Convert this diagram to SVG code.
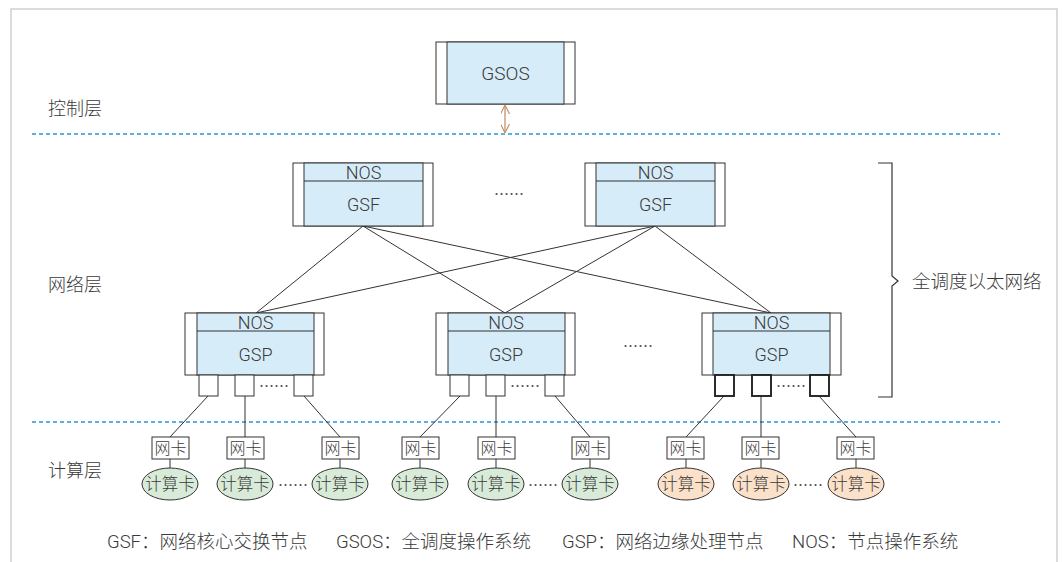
<svg xmlns="http://www.w3.org/2000/svg" width="1064" height="562" viewBox="0 0 1064 562">
  <defs>
    <style>
      .frame { fill: none; stroke: #cfcfcf; stroke-width: 1.5; }
      .sep { stroke: #2597dc; stroke-width: 1.3; stroke-dasharray: 4 3; fill: none; }
      .side { fill: #ffffff; stroke: #333; stroke-width: 1; }
      .core { fill: #d6ecf9; stroke: #333; stroke-width: 1; }
      .port { fill: #ffffff; stroke: #333; stroke-width: 1; }
      .port-b { fill: #ffffff; stroke: #222; stroke-width: 1.9; }
      .nic { fill: #ffffff; stroke: #333; stroke-width: 1; }
      .card-g { fill: #d8ebd9; stroke: #333; stroke-width: 1; }
      .card-o { fill: #fbe1c9; stroke: #333; stroke-width: 1; }
      .link { stroke: #333; stroke-width: 1; fill: none; }
      .lbl { font-family: "Roboto", "Noto Sans CJK SC", sans-serif; font-weight: 300; fill: #3a3a3a; }
      .t-box { font-size: 18px; text-anchor: middle; dominant-baseline: central; }
      .t-side { font-size: 18px; dominant-baseline: central; }
      .t-leg { font-size: 18.5px; dominant-baseline: central; }
      .t-nic { font-size: 16px; text-anchor: middle; dominant-baseline: central; }
      .t-card { font-size: 16.5px; text-anchor: middle; dominant-baseline: central; }
      .t-dots { font-family: "Noto Sans CJK SC", sans-serif; font-size: 15px; text-anchor: middle; dominant-baseline: central; fill: #555; }
    </style>
    <marker id="ah" viewBox="0 0 10 10" refX="9" refY="5" markerWidth="9" markerHeight="9" orient="auto-start-reverse" markerUnits="userSpaceOnUse">
      <path d="M0,0 L10,5 L0,10" fill="none" stroke="#c08a5c" stroke-width="1.2"/>
    </marker>
  </defs>

  <!-- outer frame -->
  <path class="frame" d="M11,562 L11,9 L1057,9 L1057,562"/>

  <!-- layer separators -->
  <line class="sep" x1="32" y1="134" x2="1000" y2="134"/>
  <line class="sep" x1="32" y1="422" x2="1000" y2="422"/>

  <!-- layer names -->
  <text class="lbl t-side" x="48" y="108">控制层</text>
  <text class="lbl t-side" x="48" y="284">网络层</text>
  <text class="lbl t-side" x="48" y="470">计算层</text>

  <!-- connectors -->
  <g id="connectors">
    <line x1="505" y1="106" x2="505" y2="132" stroke="#c08a5c" stroke-width="1.2" marker-start="url(#ah)" marker-end="url(#ah)"/>
    <line class="link" x1="363" y1="226" x2="256" y2="313"/>
    <line class="link" x1="363" y1="226" x2="505" y2="313"/>
    <line class="link" x1="363" y1="226" x2="771" y2="313"/>
    <line class="link" x1="655" y1="226" x2="256" y2="313"/>
    <line class="link" x1="655" y1="226" x2="505" y2="313"/>
    <line class="link" x1="655" y1="226" x2="771" y2="313"/>
    <!-- ports to NICs -->
    <line class="link" x1="208" y1="396" x2="170" y2="437"/>
    <line class="link" x1="245" y1="396" x2="245" y2="437"/>
    <line class="link" x1="304" y1="396" x2="340" y2="437"/>
    <line class="link" x1="460" y1="396" x2="420" y2="437"/>
    <line class="link" x1="496" y1="396" x2="496" y2="437"/>
    <line class="link" x1="555" y1="396" x2="590" y2="437"/>
    <line class="link" x1="724" y1="396" x2="686" y2="437"/>
    <line class="link" x1="761" y1="396" x2="761" y2="437"/>
    <line class="link" x1="819" y1="396" x2="856" y2="437"/>
    <!-- NICs to compute cards -->
    <line class="link" x1="170" y1="459" x2="170" y2="468"/>
    <line class="link" x1="245" y1="459" x2="245" y2="468"/>
    <line class="link" x1="340" y1="459" x2="340" y2="468"/>
    <line class="link" x1="420" y1="459" x2="420" y2="468"/>
    <line class="link" x1="496" y1="459" x2="496" y2="468"/>
    <line class="link" x1="590" y1="459" x2="590" y2="468"/>
    <line class="link" x1="686" y1="459" x2="686" y2="468"/>
    <line class="link" x1="761" y1="459" x2="761" y2="468"/>
    <line class="link" x1="856" y1="459" x2="856" y2="468"/>
  </g>

  <!-- control layer -->
  <g id="gsos">
    <rect class="side" x="436" y="42" width="139" height="62"/>
    <rect class="core" x="447" y="42" width="117" height="62"/>
    <text class="lbl t-box" x="505.5" y="73" style="font-size:19px">GSOS</text>
  </g>

  <!-- core switches -->
  <g id="gsf-1">
    <rect class="side" x="293" y="163" width="140" height="63"/>
    <rect class="core" x="304" y="163" width="119" height="63"/>
    <line class="link" x1="304" y1="181" x2="423" y2="181"/>
    <text class="lbl t-box" x="363.5" y="172">NOS</text>
    <text class="lbl t-box" x="363.5" y="204">GSF</text>
  </g>
  <g id="gsf-2">
    <rect class="side" x="585" y="163" width="140" height="63"/>
    <rect class="core" x="596" y="163" width="119" height="63"/>
    <line class="link" x1="596" y1="181" x2="715" y2="181"/>
    <text class="lbl t-box" x="655.5" y="172">NOS</text>
    <text class="lbl t-box" x="655.5" y="204">GSF</text>
  </g>
  <text class="t-dots" x="509" y="193">……</text>

  <!-- edge nodes -->
  <g id="gsp-1">
    <rect class="side" x="185" y="313" width="139" height="62"/>
    <rect class="core" x="197" y="313" width="117" height="62"/>
    <line class="link" x1="197" y1="331" x2="314" y2="331"/>
    <text class="lbl t-box" x="255.5" y="322">NOS</text>
    <text class="lbl t-box" x="255.5" y="354">GSP</text>
    <rect class="port" x="199" y="375" width="19" height="21"/>
    <rect class="port" x="235" y="375" width="19" height="21"/>
    <rect class="port" x="294" y="375" width="19" height="21"/>
    <text class="t-dots" x="274" y="385">……</text>
  </g>
  <g id="gsp-2">
    <rect class="side" x="436" y="313" width="139" height="62"/>
    <rect class="core" x="448" y="313" width="117" height="62"/>
    <line class="link" x1="448" y1="331" x2="565" y2="331"/>
    <text class="lbl t-box" x="506" y="322">NOS</text>
    <text class="lbl t-box" x="506" y="354">GSP</text>
    <rect class="port" x="450" y="375" width="19" height="21"/>
    <rect class="port" x="486" y="375" width="19" height="21"/>
    <rect class="port" x="545" y="375" width="19" height="21"/>
    <text class="t-dots" x="525" y="385">……</text>
  </g>
  <text class="t-dots" x="638" y="345">……</text>
  <g id="gsp-3">
    <rect class="side" x="702" y="313" width="139" height="62"/>
    <rect class="core" x="713" y="313" width="117" height="62"/>
    <line class="link" x1="713" y1="331" x2="830" y2="331"/>
    <text class="lbl t-box" x="771.5" y="322">NOS</text>
    <text class="lbl t-box" x="771.5" y="354">GSP</text>
    <rect class="port-b" x="715" y="375" width="19" height="21"/>
    <rect class="port-b" x="752" y="375" width="19" height="21"/>
    <rect class="port-b" x="810" y="375" width="19" height="21"/>
    <text class="t-dots" x="791" y="385">……</text>
  </g>

  <!-- fabric brace -->
  <g id="fabric">
    <path d="M878,163 L892,163 L892,276 L898,281 L892,286 L892,397 L878,397" fill="none" stroke="#333" stroke-width="1.2"/>
    <text class="lbl t-side" x="912" y="282" style="font-size:18.5px">全调度以太网络</text>
  </g>

  <!-- compute layer: NICs and cards -->
  <g id="host-1">
    <rect class="nic" x="152" y="437" width="37" height="22"/>
    <text class="lbl t-nic" x="170.5" y="448">网卡</text>
    <ellipse class="card-g" cx="170" cy="484" rx="28" ry="16"/>
    <text class="lbl t-card" x="170" y="484">计算卡</text>
  </g>
  <g id="host-2">
    <rect class="nic" x="227" y="437" width="37" height="22"/>
    <text class="lbl t-nic" x="245.5" y="448">网卡</text>
    <ellipse class="card-g" cx="245" cy="484" rx="28" ry="16"/>
    <text class="lbl t-card" x="245" y="484">计算卡</text>
  </g>
  <text class="t-dots" x="293" y="484">……</text>
  <g id="host-3">
    <rect class="nic" x="322" y="437" width="37" height="22"/>
    <text class="lbl t-nic" x="340.5" y="448">网卡</text>
    <ellipse class="card-g" cx="340" cy="484" rx="28" ry="16"/>
    <text class="lbl t-card" x="340" y="484">计算卡</text>
  </g>
  <g id="host-4">
    <rect class="nic" x="402" y="437" width="37" height="22"/>
    <text class="lbl t-nic" x="420.5" y="448">网卡</text>
    <ellipse class="card-g" cx="420" cy="484" rx="28" ry="16"/>
    <text class="lbl t-card" x="420" y="484">计算卡</text>
  </g>
  <g id="host-5">
    <rect class="nic" x="478" y="437" width="37" height="22"/>
    <text class="lbl t-nic" x="496.5" y="448">网卡</text>
    <ellipse class="card-g" cx="496" cy="484" rx="28" ry="16"/>
    <text class="lbl t-card" x="496" y="484">计算卡</text>
  </g>
  <text class="t-dots" x="543" y="484">……</text>
  <g id="host-6">
    <rect class="nic" x="572" y="437" width="37" height="22"/>
    <text class="lbl t-nic" x="590.5" y="448">网卡</text>
    <ellipse class="card-g" cx="590" cy="484" rx="28" ry="16"/>
    <text class="lbl t-card" x="590" y="484">计算卡</text>
  </g>
  <g id="host-7">
    <rect class="nic" x="667" y="437" width="37" height="22"/>
    <text class="lbl t-nic" x="685.5" y="448">网卡</text>
    <ellipse class="card-o" cx="686" cy="484" rx="28" ry="16"/>
    <text class="lbl t-card" x="686" y="484">计算卡</text>
  </g>
  <g id="host-8">
    <rect class="nic" x="742" y="437" width="37" height="22"/>
    <text class="lbl t-nic" x="760.5" y="448">网卡</text>
    <ellipse class="card-o" cx="761" cy="484" rx="28" ry="16"/>
    <text class="lbl t-card" x="761" y="484">计算卡</text>
  </g>
  <text class="t-dots" x="808" y="484">……</text>
  <g id="host-9">
    <rect class="nic" x="837" y="437" width="37" height="22"/>
    <text class="lbl t-nic" x="855.5" y="448">网卡</text>
    <ellipse class="card-o" cx="856" cy="484" rx="28" ry="16"/>
    <text class="lbl t-card" x="856" y="484">计算卡</text>
  </g>

  <!-- legend -->
  <g id="legend" class="lbl t-leg">
    <text x="107" y="542">GSF：网络核心交换节点</text>
    <text x="336" y="542">GSOS：全调度操作系统</text>
    <text x="562" y="542">GSP：网络边缘处理节点</text>
    <text x="792" y="542">NOS：节点操作系统</text>
  </g>
</svg>
